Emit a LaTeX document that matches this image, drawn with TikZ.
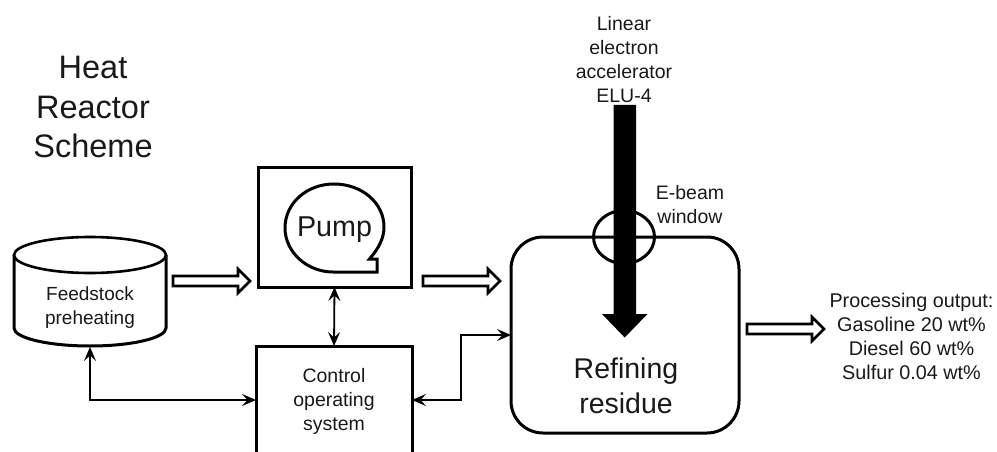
\documentclass[tikz,border=0pt]{standalone}
\usepackage{fontspec}
\setmainfont{Liberation Sans}
\usetikzlibrary{arrows.meta}
\tikzset{
  x=1pt,y=-1pt,
  heavy/.style={draw=black,line width=3pt},
  boxnode/.style={heavy,rectangle,inner sep=0pt,outer sep=0pt},
  lbl/.style={align=center,inner sep=0pt,text=black!90},
  small/.style={lbl,font=\fontsize{19.5}{24}\selectfont},
  conn/.style={line width=1.8pt,{Stealth[length=14pt,width=12pt,inset=5.5pt]}-{Stealth[length=14pt,width=12pt,inset=5.5pt]}},
  hollow/.style={draw=black,fill=white,line width=2.8pt,miter limit=10},
  beam/.style={fill=black,draw=none}
}
\newcommand{\hollowarrow}[2]{%
  \draw[hollow] (#1,#2-5) -- (#1+65,#2-5) -- (#1+65,#2-12) -- (#1+77,#2) -- (#1+65,#2+12) -- (#1+65,#2+5) -- (#1,#2+5) -- cycle;}
\begin{document}
\begin{tikzpicture}
\useasboundingbox (0,0) rectangle (997,452);
\clip (0,0) rectangle (997,452);
% title
\node[lbl,font=\fontsize{32.5}{39.5}\selectfont] (title) at (93,107) {Heat\\Reactor\\Scheme};
% feedstock cylinder
\draw[heavy,fill=white] (14,255) -- (14,328) arc[start angle=180,end angle=360,x radius=76,y radius=-18] -- (166,255);
\draw[heavy,line width=2.6pt,fill=white] (90,255) ellipse[x radius=76,y radius=18];
\coordinate (feedS) at (90,347);
\node[lbl,font=\fontsize{19}{24}\selectfont] (feed) at (90,308) {Feedstock\\preheating};
% pump
\node[boxnode,minimum width=153pt,minimum height=120pt] (pump) at (334.5,227) {};
\draw[line width=3pt,line join=miter] (333,272) -- (377,272) -- (377,259) -- (369.5,259)
  .. controls (379,248) and (384,238) .. (384,227)
  .. controls (384,203) and (362,184) .. (334,184)
  .. controls (307,184) and (285,203) .. (285,228)
  .. controls (285,252) and (307,272) .. (333,272);
\node[lbl,font=\fontsize{28.7}{32}\selectfont] (pumplbl) at (334.5,230) {Pump};
% control
\node[boxnode,minimum width=156pt,minimum height=108pt] (ctrl) at (334,400) {};
\node[small] (ctrllbl) at (334,401.5) {Control\\operating\\system};
% refining
\node[boxnode,rounded corners=32pt,minimum width=228pt,minimum height=196pt] (ref) at (625,335) {};
\node[lbl,font=\fontsize{28.5}{35}\selectfont] (reflbl) at (626,385.5) {Refining\\residue};
% window
\draw[line width=3pt] (624,237) ellipse[x radius=30.5,y radius=26.5];
% beam
\fill[beam] (613.5,105) -- (636,105) -- (636,314) -- (647.5,314) -- (624.7,337.5) -- (602,314) -- (613.5,314) -- cycle;
\node[small] (linac) at (624,59.5) {Linear\\electron\\accelerator\\ELU-4};
\node[small] (win) at (690,205) {E-beam\\window};
% hollow arrows
\hollowarrow{173}{281}
\hollowarrow{423}{281}
\hollowarrow{747}{329}
% output
\node[lbl,font=\fontsize{19.8}{24}\selectfont] (out) at (911.5,336) {Processing output:\\Gasoline 20 wt\%\\Diesel 60 wt\%\\Sulfur 0.04 wt\%};
% connectors
\draw[conn] (pump.south) -- (ctrl.north);
\draw[conn] (feedS) |- (ctrl.west);
\draw[conn] (ctrl.east) -- (461,400) -- (461,335) -- (ref.west);
\end{tikzpicture}
\end{document}
